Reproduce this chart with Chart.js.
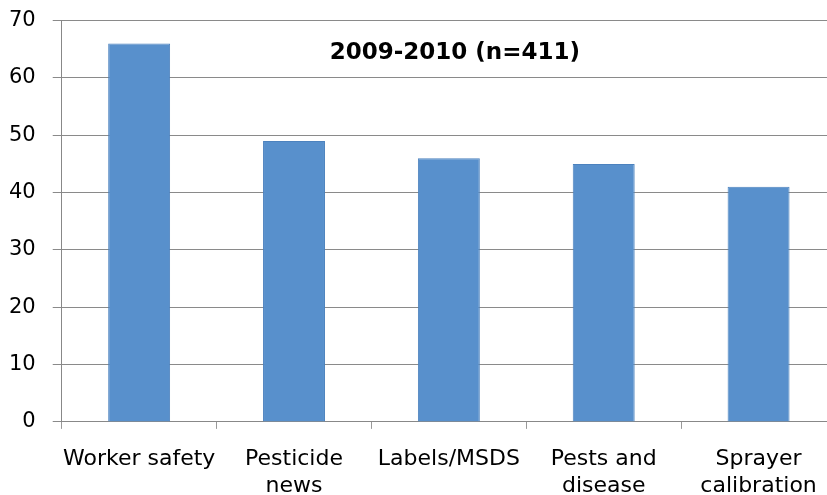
<!DOCTYPE html>
<html>
<head>
<meta charset="utf-8">
<script src="https://cdn.jsdelivr.net/npm/chart.js@4"></script>
<style>
html,body{margin:0;padding:0;background:#fff;overflow:hidden;width:827px;height:495px;}
#wrap{width:827px;height:495px;position:relative;overflow:hidden;}
#c{position:absolute;left:-12px;top:-9px;}
</style>
</head>
<body>
<div id="wrap"><canvas id="c" width="848" height="526"></canvas></div>
<script>
const categories = [["Worker safety"], ["Pesticide", "news"], ["Labels/MSDS"], ["Pests and", "disease"], ["Sprayer", "calibration"]];
const values = [66, 49, 46, 45, 41];
const yTicks = [0, 10, 20, 30, 40, 50, 60, 70];
const titleText = "2009-2010 (n=411)";

const titlePlugin = {
  id: 'innerTitle',
  afterDraw(chart) {
    const {ctx, chartArea} = chart;
    ctx.save();
    ctx.font = 'bold 23px "DejaVu Sans"';
    ctx.fillStyle = '#000';
    ctx.textAlign = 'center';
    ctx.textBaseline = 'middle';
    ctx.fillText(titleText, (chartArea.left + chartArea.right) / 2 + 6, chartArea.top + 32);
    ctx.restore();
  }
};

new Chart(document.getElementById('c'), {
  type: 'bar',
  data: {
    labels: categories,
    datasets: [{
      data: values,
      backgroundColor: '#5890CC',
      borderColor: '#4C82BE',
      borderWidth: 1,
      categoryPercentage: 0.4,
      barPercentage: 1.0
    }]
  },
  options: {
    responsive: false,
    animation: false,
    layout: {padding: {top: 3, left: 4, right: 0, bottom: 0}},
    plugins: {legend: {display: false}, tooltip: {enabled: false}},
    scales: {
      x: {
        grid: {display: true, offset: true, drawOnChartArea: false, color: '#999', tickLength: 7},
        border: {display: true, color: '#888'},
        ticks: {color: '#000', font: {family: 'DejaVu Sans', size: 22, lineHeight: 1.23}, maxRotation: 0, autoSkip: false, padding: 17},
      },
      y: {
        min: 0, max: 70,
        afterBuildTicks(scale) { scale.ticks = yTicks.map(v => ({value: v})); },
        grid: {color: '#8a8a8a', tickLength: 9},
        border: {display: true, color: '#888'},
        ticks: {color: '#000', font: {family: 'DejaVu Sans', size: 21}, padding: 17}
      }
    }
  },
  plugins: [titlePlugin]
});
</script>
</body>
</html>
